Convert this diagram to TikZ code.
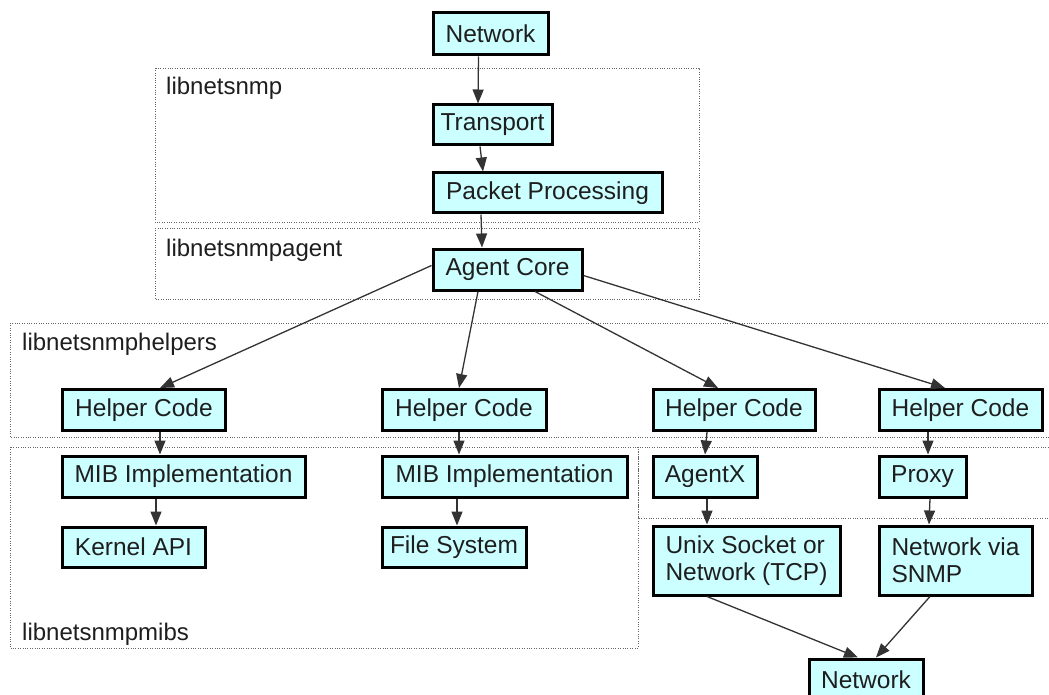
\documentclass[tikz,border=0pt]{standalone}
\usepackage{fontspec}
\setmainfont{Liberation Sans}
\usetikzlibrary{arrows.meta}
\definecolor{boxfill}{RGB}{204,255,255}
\definecolor{txt}{RGB}{30,30,30}
\begin{document}
\begin{tikzpicture}[x=1pt,y=-1pt,
  box/.style={draw=black, line width=3pt, fill=boxfill, inner sep=0pt, text=txt,
    font=\fontsize{24.5}{27}\selectfont, align=left},
  cluster/.style={draw=gray!80!black, line width=0.9pt, dash pattern=on 1pt off 1.4pt},
  clabel/.style={anchor=base west, inner sep=0pt, text=txt, font=\fontsize{24}{27}\selectfont},
  edge/.style={draw=black!80, line width=1.3pt, -{Triangle[length=14pt,width=11pt]}}]
\useasboundingbox[fill=white] (0,0) rectangle (1049,695);

% clusters
\draw[cluster] (155,68) rectangle (699,222);
\draw[cluster] (155,228) rectangle (699,299);
\draw[cluster] (10,323) rectangle (1070,437);
\draw[cluster] (10,447) rectangle (638,648);
\draw[cluster] (638,447) rectangle (1070,518);
\node[clabel] (l1) at (166,95) {libnetsnmp};
\node[clabel] (l2) at (166,256) {libnetsnmpagent};
\node[clabel] (l3) at (22,350) {libnetsnmphelpers};
\node[clabel] (l4) at (22,640) {libnetsnmpmibs};

% nodes
\node[box, minimum width=115pt, minimum height=42pt] (net) at (490.5,34) {Network};
\node[box, minimum width=119pt, minimum height=40pt] (trans) at (492.5,125) {Transport};
\node[box, minimum width=229pt, minimum height=40pt] (pkt) at (547.5,193) {Packet Processing};
\node[box, minimum width=149pt, minimum height=41pt] (core) at (507.5,269.5) {Agent Core};

\node[box, minimum width=163pt, minimum height=41pt] (h1) at (144,410) {Helper Code};
\node[box, minimum width=164pt, minimum height=41pt] (h2) at (464,410) {Helper Code};
\node[box, minimum width=162pt, minimum height=41pt] (h3) at (734,410) {Helper Code};
\node[box, minimum width=163pt, minimum height=41pt] (h4) at (960.5,410) {Helper Code};

\node[box, minimum width=243pt, minimum height=41pt] (mib1) at (183.5,476.5) {MIB Implementation};
\node[box, minimum width=245pt, minimum height=41pt] (mib2) at (504.5,476.5) {MIB Implementation};
\node[box, minimum width=104pt, minimum height=41pt] (agx) at (705,476.5) {AgentX};
\node[box, minimum width=87pt, minimum height=41pt] (proxy) at (922.5,476.5) {Proxy};

\node[box, minimum width=143pt, minimum height=40pt] (kern) at (133.5,547) {Kernel API};
\node[box, minimum width=144pt, minimum height=40pt] (fs) at (454,547) {File System};
\node[box, minimum width=187pt, minimum height=69pt] (unix) at (746.5,560.5) {Unix Socket or\\Network (TCP)};
\node[box, minimum width=153pt, minimum height=69pt] (nsnmp) at (955.5,560.5) {Network via\\SNMP};
\node[box, minimum width=114pt, minimum height=42pt] (net2) at (866,680) {Network};

% edges
\draw[edge] ([xshift=-12pt]net.south) -- ([xshift=-14.5pt]trans.north);
\draw[edge] ([xshift=-12.5pt]trans.south) -- ([xshift=-64.5pt]pkt.north);
\draw[edge] ([xshift=-66.5pt]pkt.south) -- ([xshift=-25.5pt]core.north);
\draw[edge] ([yshift=4pt]core.west) -- ([xshift=16pt]h1.north);
\draw[edge] ([xshift=-29.5pt]core.south) -- ([xshift=-5pt]h2.north);
\draw[edge] ([xshift=27.5pt]core.south) -- ([xshift=-16pt]h3.north);
\draw[edge] ([yshift=-6pt]core.east) -- ([xshift=-15.5pt]h4.north);
\draw[edge] ([xshift=16pt]h1.south) -- ([xshift=-23.5pt]mib1.north);
\draw[edge] ([xshift=-5pt]h2.south) -- ([xshift=-45.5pt]mib2.north);
\draw[edge] ([xshift=-27pt]h3.south) -- ([xshift=0pt]agx.north);
\draw[edge] ([xshift=-32.5pt]h4.south) -- ([xshift=5.5pt]proxy.north);
\draw[edge] ([xshift=-27.5pt]mib1.south) -- ([xshift=22.5pt]kern.north);
\draw[edge] ([xshift=-47.5pt]mib2.south) -- ([xshift=3pt]fs.north);
\draw[edge] ([xshift=2pt]agx.south) -- ([xshift=-39.5pt]unix.north);
\draw[edge] ([xshift=7.5pt]proxy.south) -- ([xshift=-26.5pt]nsnmp.north);
\draw[edge] ([xshift=-39.5pt]unix.south) -- ([xshift=-8pt]net2.north);
\draw[edge] ([xshift=-25.5pt]nsnmp.south) -- ([xshift=10pt]net2.north);
\end{tikzpicture}
\end{document}
